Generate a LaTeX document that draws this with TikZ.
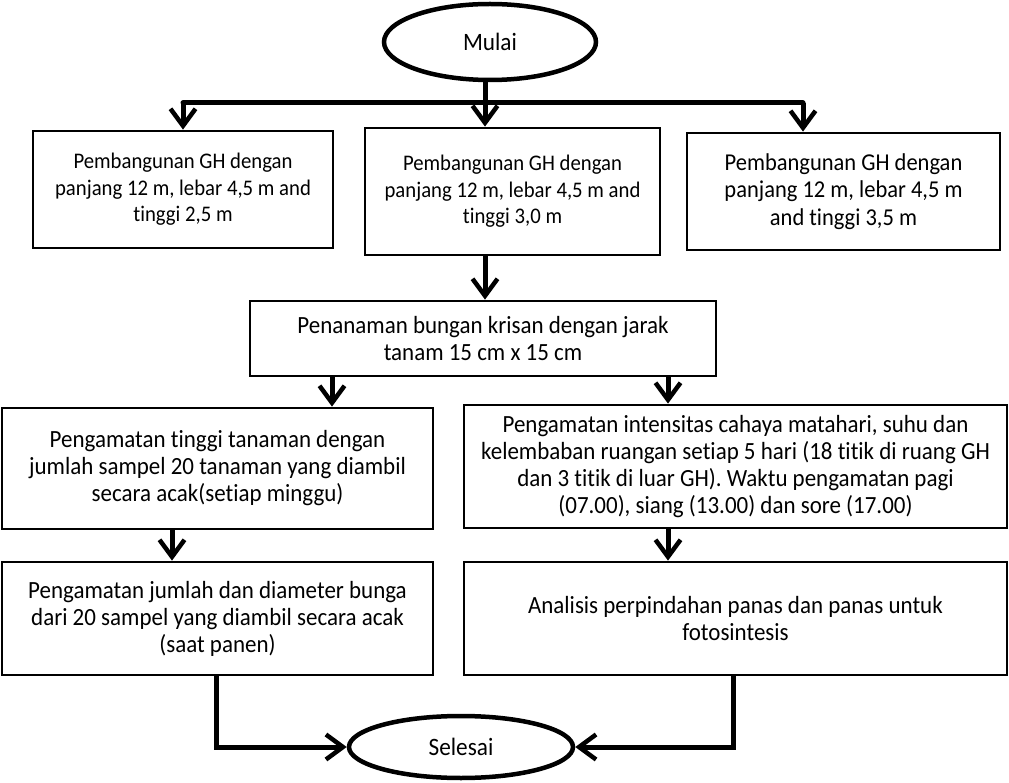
\documentclass[tikz,border=0pt]{standalone}
\usepackage{fontspec}
\setmainfont{Carlito}[FakeStretch=0.93,Ligatures=NoCommon]
\usetikzlibrary{arrows.meta,shapes.geometric}
\begin{document}
\begin{tikzpicture}[x=1pt,y=-1pt,
 box/.style={draw,line width=2.8pt,align=center,font=\fontsize{24.7}{27}\selectfont,inner sep=0pt},
 topbox/.style={box,font=\fontsize{22.3}{26.5}\selectfont},
 term/.style={draw,ellipse,line width=4.5pt,font=\fontsize{25}{26}\selectfont,inner sep=0pt},
 conn/.style={line width=5pt},
 arr/.style={line width=5pt,-{Straight Barb[length=17pt,width=25pt,line width=4.5pt]}}]
\useasboundingbox (0,0) rectangle (1009,783);
\node[term,minimum width=212pt,minimum height=76pt] (mulai) at (490,42) {Mulai};
\node[topbox,minimum width=300pt,minimum height=117pt] (b1) at (183,189.5) {Pembangunan GH dengan\\panjang 12 m, lebar 4,5 m and\\tinggi 2,5 m};
\node[topbox,minimum width=295pt,minimum height=127pt] (b2) at (512.5,191.5) {Pembangunan GH dengan\\panjang 12 m, lebar 4,5 m and\\tinggi 3,0 m};
\node[topbox,minimum width=313pt,minimum height=117pt,font=\fontsize{24.2}{27.5}\selectfont] (b3) at (843.5,191.5) {Pembangunan GH dengan\\panjang 12 m, lebar 4,5 m\\and tinggi 3,5 m};
\node[box,minimum width=466pt,minimum height=75pt] (b4) at (483,338.5) {Penanaman bungan krisan dengan jarak\\tanam 15 cm x 15 cm};
\node[box,minimum width=431pt,minimum height=121pt] (b5) at (217.5,468.5) {Pengamatan tinggi tanaman dengan\\jumlah sampel 20 tanaman yang diambil\\secara acak(setiap minggu)};
\node[box,minimum width=543pt,minimum height=123pt] (b6) at (735.5,466.5) {Pengamatan intensitas cahaya matahari, suhu dan\\kelembaban ruangan setiap 5 hari (18 titik di ruang GH\\dan 3 titik di luar GH). Waktu pengamatan pagi\\(07.00), siang (13.00) dan sore (17.00)};
\node[box,minimum width=431pt,minimum height=113pt] (b7) at (217.5,618.5) {Pengamatan jumlah dan diameter bunga\\dari 20 sampel yang diambil secara acak\\(saat panen)};
\node[box,minimum width=543pt,minimum height=113pt] (b8) at (735.5,618.5) {Analisis perpindahan panas dan panas untuk\\fotosintesis};
\node[term,minimum width=224pt,minimum height=62pt] (sel) at (461,747) {Selesai};
\coordinate (jm) at (485,103);
\coordinate (jl) at (183,103);
\coordinate (jr) at (803,103);
\draw[conn] (mulai.south -| jm) -- (jm);
\draw[conn,line cap=round] (jl) -- (jr);
\draw[arr] (jl) -- (jl |- b1.north);
\draw[arr] (jm) -- (jm |- b2.north);
\draw[arr] (jr) -- (jr |- b3.north);
\draw[arr] (485,0 |- b2.south) -- (485,0 |- b4.north);
\draw[arr] (332,0 |- b4.south) -- (332,0 |- b5.north);
\draw[arr] (668,0 |- b4.south) -- (668,0 |- b6.north);
\draw[arr] (172,0 |- b5.south) -- (172,0 |- b7.north);
\draw[arr] (668,0 |- b6.south) -- (668,0 |- b8.north);
\draw[arr] (216,0 |- b7.south) |- (sel.west);
\draw[arr] (733,0 |- b8.south) |- (sel.east);
\end{tikzpicture}
\end{document}
